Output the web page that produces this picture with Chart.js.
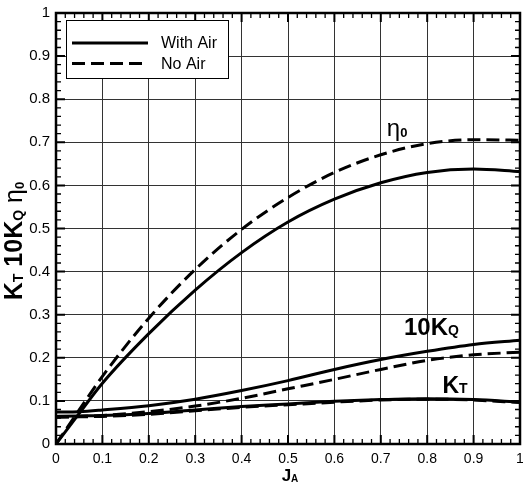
<!DOCTYPE html>
<html>
<head>
<meta charset="utf-8">
<script src="https://cdn.jsdelivr.net/npm/chart.js@4.4.0/dist/chart.umd.min.js"></script>
<style>
    html, body { margin: 0; padding: 0; background: #fff; }
    #wrap { width: 523px; height: 484px; }
</style>
</head>
<body>
<div id="wrap"><canvas id="chart" width="523" height="484"></canvas></div>
<script>
/* data */
var jA = [0, 0.05, 0.1, 0.2, 0.3, 0.4, 0.5, 0.6, 0.7, 0.8, 0.9, 1.0];

var etaAir   = [0, 0.071, 0.141, 0.256, 0.357, 0.444, 0.515, 0.568, 0.606, 0.63, 0.638, 0.632];
var etaNoAir = [0, 0.079, 0.157, 0.292, 0.405, 0.498, 0.572, 0.63, 0.671, 0.697, 0.706, 0.705];

var kq10Air   = [0.074, 0.075, 0.079, 0.089, 0.104, 0.124, 0.147, 0.173, 0.196, 0.215, 0.231, 0.241];
var kq10NoAir = [0.063, 0.064, 0.066, 0.075, 0.088, 0.106, 0.128, 0.15, 0.173, 0.194, 0.207, 0.213];

var ktAir   = [0.064, 0.065, 0.066, 0.071, 0.079, 0.087, 0.093, 0.099, 0.103, 0.105, 0.103, 0.097];
var ktNoAir = [0.062, 0.063, 0.064, 0.069, 0.077, 0.085, 0.091, 0.097, 0.102, 0.104, 0.102, 0.096];

var xTicks = [0, 0.1, 0.2, 0.3, 0.4, 0.5, 0.6, 0.7, 0.8, 0.9, 1];
var yTicks = [0, 0.1, 0.2, 0.3, 0.4, 0.5, 0.6, 0.7, 0.8, 0.9, 1];

var legendLabels = ["With Air", "No Air"];

var FONT = "'Liberation Sans', Arial, Helvetica, sans-serif";
var DASH = [13, 6];

const toPts = (ys) => ys.map((y, i) => ({ x: jA[i], y: y }));

const mkSet = (label, ys, dashed) => ({
    label: label,
    data: toPts(ys),
    borderColor: "#000",
    borderWidth: 3,
    borderDash: dashed ? DASH : [],
    pointRadius: 0,
    fill: false,
    cubicInterpolationMode: "monotone"
});

var datasets = [
    mkSet(legendLabels[0], etaAir, false),
    mkSet(legendLabels[1], etaNoAir, true),
    mkSet("10KQ " + legendLabels[0], kq10Air, false),
    mkSet("10KQ " + legendLabels[1], kq10NoAir, true),
    mkSet("KT " + legendLabels[0], ktAir, false),
    mkSet("KT " + legendLabels[1], ktNoAir, true)
];

/* text with subscripts: parts = [text, font, dy] */
function drawParts(ctx, parts, x, y) {
    var cx = x;
    parts.forEach(function(p) {
        ctx.font = p[1];
        ctx.fillText(p[0], cx, y + (p[2] || 0));
        cx += ctx.measureText(p[0]).width;
    });
    return cx - x;
}
function partsWidth(ctx, parts) {
    var w = 0;
    parts.forEach(function(p) { ctx.font = p[1]; w += ctx.measureText(p[0]).width; });
    return w;
}

var framePlugin = {
    id: "frame",
    afterDraw: function(chart) {
        var ctx = chart.ctx;
        var a = chart.chartArea;
        var xs = chart.scales.x, ys = chart.scales.y;
        ctx.save();
        ctx.strokeStyle = "#000";
        ctx.fillStyle = "#000";

        // inward ticks on all four sides
        for (var k = 0; k <= 50; k++) {
            var v = k / 50;
            var major = (k % 5 == 0);
            var len = major ? 9 : 5;
            ctx.lineWidth = major ? 2 : 1.3;
            var px = xs.getPixelForValue(v);
            var py = ys.getPixelForValue(v);
            ctx.beginPath();
            ctx.moveTo(px, a.bottom); ctx.lineTo(px, a.bottom - len);
            ctx.moveTo(px, a.top); ctx.lineTo(px, a.top + len);
            ctx.moveTo(a.left, py); ctx.lineTo(a.left + len, py);
            ctx.moveTo(a.right, py); ctx.lineTo(a.right - len, py);
            ctx.stroke();
        }

        // frame
        ctx.lineWidth = 2.5;
        ctx.strokeRect(a.left, a.top, a.right - a.left, a.bottom - a.top);

        // legend box
        var lx = a.left + 10, ly = a.top + 7;
        ctx.fillStyle = "#fff";
        ctx.fillRect(lx, ly, 162, 58);
        ctx.lineWidth = 1;
        ctx.strokeRect(lx + 0.5, ly + 0.5, 162, 58);
        ctx.fillStyle = "#000";
        ctx.textBaseline = "middle";
        ctx.textAlign = "left";
        for (var i = 0; i < 2; i++) {
            var ds = chart.data.datasets[i];
            var yy = ly + 23 + i * 20.5;
            ctx.lineWidth = ds.borderWidth;
            ctx.setLineDash(ds.borderDash);
            ctx.beginPath();
            ctx.moveTo(lx + 6, yy); ctx.lineTo(lx + 82, yy);
            ctx.stroke();
            ctx.setLineDash([]);
            ctx.font = "16px " + FONT;
            ctx.fillText(ds.label, lx + 95, yy + 1);
        }

        // curve labels
        ctx.textBaseline = "alphabetic";
        drawParts(ctx, [["\u03b7", "24px " + FONT], ["0", "bold 13px " + FONT, 1]],
            xs.getPixelForValue(0.713), ys.getPixelForValue(0.714));
        drawParts(ctx, [["10K", "bold 24px " + FONT], ["Q", "bold 14px " + FONT, 0]],
            xs.getPixelForValue(0.75), ys.getPixelForValue(0.2535));
        drawParts(ctx, [["K", "bold 23px " + FONT], ["T", "bold 14px " + FONT, 0]],
            xs.getPixelForValue(0.833), ys.getPixelForValue(0.119));

        // x title
        var xt = [["J", "bold 17px " + FONT], ["A", "bold 10px " + FONT, 1]];
        var xw = partsWidth(ctx, xt);
        drawParts(ctx, xt, (a.left + a.right) / 2 - xw / 2 + 2, 481);

        // y title, rotated
        var yt = [["K", "bold 25px " + FONT], ["T", "bold 14px " + FONT, 1],
                  [" 10K", "bold 25px " + FONT], ["Q", "bold 14px " + FONT, 1],
                  [" \u03b7", "25px " + FONT], ["0", "bold 13px " + FONT, 2]];
        var yw = partsWidth(ctx, yt);
        ctx.translate(22, 241);
        ctx.rotate(-Math.PI / 2);
        drawParts(ctx, yt, -yw / 2, 0);
        ctx.restore();
    }
};

const tickFmt = (v) => String(Math.round(v * 10) / 10);

window.onload = function() {
    var ctx = document.getElementById("chart").getContext("2d");
    window.theChart = new Chart(ctx, {
        type: "line",
        data: { datasets: datasets },
        plugins: [framePlugin],
        options: {
            responsive: false,
            animation: false,
            devicePixelRatio: 1,
            layout: { padding: { top: 13, right: 3, left: 0, bottom: 0 }, autoPadding: false },
            plugins: { legend: { display: false }, tooltip: { enabled: false } },
            scales: {
                x: {
                    type: "linear", min: 0, max: 1,
                    afterFit: (s) => { s.height = 40; s.paddingLeft = 0; s.paddingRight = 0; },
                    afterBuildTicks: (s) => { s.ticks = xTicks.map((v) => ({ value: v })); },
                    ticks: { callback: tickFmt, color: "#000", font: { family: FONT, size: 14 }, padding: 7, maxRotation: 0, autoSkip: false },
                    grid: { color: "#333", lineWidth: 1, drawTicks: false },
                    border: { display: false }
                },
                y: {
                    type: "linear", min: 0, max: 1,
                    afterFit: (s) => { s.width = 56; s.paddingTop = 0; s.paddingBottom = 0; },
                    afterBuildTicks: (s) => { s.ticks = yTicks.map((v) => ({ value: v })); },
                    ticks: { callback: tickFmt, color: "#000", font: { family: FONT, size: 15 }, padding: 6, autoSkip: false },
                    grid: { color: "#333", lineWidth: 1, drawTicks: false },
                    border: { display: false }
                }
            }
        }
    });
}
</script>
</body>
</html>
